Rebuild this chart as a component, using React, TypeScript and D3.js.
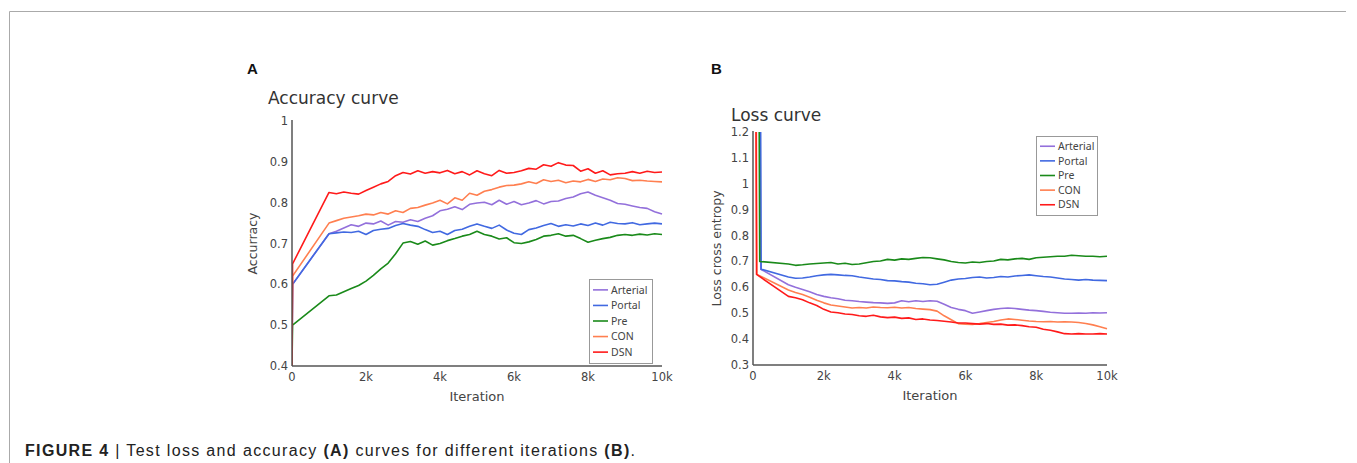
import React from 'react';
import * as d3 from 'd3';

// legend order and colours
const SERIES = ['Arterial', 'Portal', 'Pre', 'CON', 'DSN'];
const COLORS = ['#9370db', '#4169e1', '#1a8a1a', '#ff7f50', '#ff1a1a'];

// shared iteration grid (after the first 1k)
const ITERS = [
  1000, 1200, 1400, 1600, 1800, 2000, 2200, 2400, 2600, 2800,
  3000, 3200, 3400, 3600, 3800, 4000, 4200, 4400, 4600, 4800,
  5000, 5200, 5400, 5600, 5800, 6000, 6200, 6400, 6600, 6800,
  7000, 7200, 7400, 7600, 7800, 8000, 8200, 8400, 8600, 8800,
  9000, 9200, 9400, 9600, 9800, 10000,
];

// ---- accuracy (panel A)
const accHead = [
  [[0, 0.4], [15, 0.6]],
  [[0, 0.4], [15, 0.6]],
  [[0, 0.4], [15, 0.5]],
  [[0, 0.4], [15, 0.62]],
  [[0, 0.4], [15, 0.65]],
];
const accArterial = [
  0.724, 0.73, 0.738, 0.746, 0.742, 0.75, 0.748, 0.755, 0.745, 0.754,
  0.752, 0.758, 0.754, 0.762, 0.768, 0.78, 0.784, 0.79, 0.783, 0.796,
  0.799, 0.801, 0.795, 0.806, 0.796, 0.803, 0.795, 0.799, 0.805, 0.797,
  0.803, 0.804, 0.81, 0.814, 0.822, 0.826, 0.818, 0.812, 0.806, 0.798,
  0.796, 0.792, 0.788, 0.786, 0.778, 0.772,
];
const accPortal = [
  0.724, 0.726, 0.728, 0.727, 0.73, 0.722, 0.732, 0.735, 0.737, 0.744,
  0.749, 0.745, 0.742, 0.734, 0.727, 0.73, 0.722, 0.732, 0.735, 0.742,
  0.748, 0.742, 0.737, 0.745, 0.733, 0.725, 0.722, 0.734, 0.738, 0.744,
  0.749, 0.742, 0.746, 0.743, 0.748, 0.744, 0.75, 0.745, 0.752, 0.749,
  0.748, 0.751, 0.746, 0.748, 0.75, 0.748,
];
const accPre = [
  0.572, 0.574, 0.582, 0.59, 0.597, 0.608, 0.622, 0.638, 0.652, 0.675,
  0.701, 0.705, 0.698, 0.706, 0.696, 0.7, 0.707, 0.712, 0.718, 0.722,
  0.73, 0.722, 0.718, 0.711, 0.714, 0.702, 0.7, 0.704, 0.71, 0.718,
  0.72, 0.724, 0.718, 0.72, 0.712, 0.703, 0.708, 0.712, 0.715, 0.72,
  0.722, 0.72, 0.723, 0.721, 0.724, 0.722,
];
const accCon = [
  0.75, 0.756, 0.762, 0.765, 0.768, 0.772, 0.77, 0.776, 0.772, 0.78,
  0.776, 0.786, 0.788, 0.794, 0.799, 0.806, 0.797, 0.812, 0.806, 0.823,
  0.818, 0.828, 0.832, 0.838, 0.842, 0.843, 0.846, 0.851, 0.847, 0.856,
  0.852, 0.855, 0.849, 0.853, 0.851, 0.857, 0.852, 0.858, 0.856, 0.861,
  0.859, 0.854, 0.855, 0.853, 0.852, 0.851,
];
const accDsn = [
  0.825, 0.822, 0.826, 0.823, 0.821, 0.83, 0.838, 0.846, 0.852, 0.866,
  0.874, 0.87, 0.878, 0.872, 0.876, 0.873, 0.879, 0.871, 0.876, 0.868,
  0.878, 0.871, 0.866, 0.879, 0.872, 0.874, 0.878, 0.884, 0.882, 0.893,
  0.889, 0.898, 0.892, 0.891, 0.877, 0.883, 0.872, 0.878, 0.868, 0.871,
  0.872, 0.876, 0.872, 0.877, 0.874, 0.875,
];
const accValues = [accArterial, accPortal, accPre, accCon, accDsn];

// ---- loss (panel B)
const lossHead = [
  [[200, 1.4], [220, 0.67]],
  [[210, 1.4], [230, 0.67]],
  [[170, 1.4], [190, 0.7]],
  [[90, 1.4], [110, 0.65]],
  [[80, 1.4], [100, 0.65]],
];
const lossArterial = [
  0.61, 0.6, 0.592, 0.583, 0.572, 0.565, 0.56, 0.556, 0.55, 0.548,
  0.545, 0.543, 0.541, 0.54, 0.538, 0.54, 0.548, 0.544, 0.548, 0.545,
  0.548, 0.546, 0.535, 0.522, 0.515, 0.51, 0.5, 0.505, 0.51, 0.515,
  0.518, 0.52, 0.518, 0.515, 0.512, 0.51, 0.507, 0.504, 0.502, 0.5,
  0.5, 0.501, 0.5, 0.502, 0.501, 0.502,
];
const lossPortal = [
  0.64, 0.635, 0.636, 0.64, 0.645, 0.648, 0.65, 0.648, 0.646, 0.645,
  0.64, 0.636, 0.632, 0.63, 0.626, 0.625, 0.622, 0.62, 0.616, 0.614,
  0.61, 0.612, 0.62, 0.628, 0.632, 0.634, 0.638, 0.64, 0.636, 0.638,
  0.642, 0.64, 0.644, 0.646, 0.648, 0.645, 0.642, 0.64, 0.636, 0.632,
  0.63, 0.628, 0.63, 0.628, 0.627, 0.626,
];
const lossPre = [
  0.69, 0.685, 0.687, 0.69, 0.692, 0.694, 0.696, 0.69, 0.693, 0.688,
  0.69, 0.695, 0.7, 0.702, 0.708, 0.705, 0.71, 0.708, 0.712, 0.715,
  0.714, 0.71, 0.706, 0.7, 0.696, 0.694, 0.698, 0.696, 0.7, 0.702,
  0.708, 0.706, 0.71, 0.712, 0.708, 0.714, 0.716, 0.718, 0.72, 0.72,
  0.724, 0.722, 0.72, 0.72, 0.718, 0.72,
];
const lossCon = [
  0.59, 0.58, 0.572, 0.562, 0.55, 0.54, 0.532, 0.528, 0.524, 0.52,
  0.522, 0.52, 0.524, 0.522, 0.521, 0.523, 0.52, 0.522, 0.518, 0.516,
  0.514, 0.508, 0.49, 0.475, 0.46, 0.458, 0.457, 0.46, 0.464, 0.468,
  0.474, 0.478, 0.476, 0.473, 0.47, 0.468, 0.467, 0.468, 0.466, 0.467,
  0.466, 0.464, 0.46, 0.455, 0.448, 0.44,
];
const lossDsn = [
  0.565, 0.56, 0.552, 0.54, 0.53, 0.515, 0.505, 0.502, 0.497, 0.495,
  0.49, 0.488, 0.492, 0.486, 0.483, 0.485, 0.48, 0.482, 0.476, 0.478,
  0.474, 0.472, 0.469, 0.466, 0.462, 0.462, 0.46, 0.458, 0.46, 0.457,
  0.458, 0.454, 0.455, 0.452, 0.448, 0.446, 0.438, 0.434, 0.428, 0.421,
  0.42, 0.421, 0.42, 0.42, 0.421, 0.42,
];
const lossValues = [lossArterial, lossPortal, lossPre, lossCon, lossDsn];

const X_TICKS = [0, 2000, 4000, 6000, 8000, 10000];
const X_TICK_LABELS = ['0', '2k', '4k', '6k', '8k', '10k'];
const ACC_TICKS = [0.4, 0.5, 0.6, 0.7, 0.8, 0.9, 1];
const LOSS_TICKS = [0.3, 0.4, 0.5, 0.6, 0.7, 0.8, 0.9, 1, 1.1, 1.2];

const AXIS_FONT = 'DejaVu Sans, Verdana, sans-serif';
const TEXT_COLOR = '#444';

type Panel = {
  id: string;
  letter: string;
  letterX: number;
  title: string;
  titleX: number;
  titleY: number;
  x0: number; x1: number; y0: number; y1: number;
  domain: [number, number];
  yTicks: number[];
  yLabel: string;
  yLabelX: number;
  heads: number[][][];
  values: number[][];
  legend: { x: number; y: number; w: number; h: number };
};

const panels: Panel[] = [
  {
    id: 'acc', letter: 'A', letterX: 247,
    title: 'Accuracy curve', titleX: 268, titleY: 104,
    x0: 292, x1: 662, y0: 366, y1: 121,
    domain: [0.4, 1], yTicks: ACC_TICKS,
    yLabel: 'Accurracy', yLabelX: 257,
    heads: accHead, values: accValues,
    legend: { x: 589, y: 279, w: 63, h: 84 },
  },
  {
    id: 'loss', letter: 'B', letterX: 711,
    title: 'Loss curve', titleX: 731, titleY: 121,
    x0: 753, x1: 1107, y0: 365, y1: 132,
    domain: [0.3, 1.2], yTicks: LOSS_TICKS,
    yLabel: 'Loss cross entropy', yLabelX: 721,
    heads: lossHead, values: lossValues,
    legend: { x: 1036, y: 136, w: 61, h: 79 },
  },
];

const PanelChart = ({ p }: { p: Panel }) => {
  const x = d3.scaleLinear().domain([0, 10000]).range([p.x0, p.x1]);
  const y = d3.scaleLinear().domain(p.domain).range([p.y0, p.y1]);
  const line = d3.line<number[]>().x(d => x(d[0])).y(d => y(d[1]));
  const rowH = p.legend.h / 5.4;

  return (
    <g>
      <text x={p.letterX} y={74} fontFamily="Liberation Sans, Arial, sans-serif"
        fontWeight="bold" fontSize={15} fill="#111">{p.letter}</text>
      <text x={p.titleX} y={p.titleY} fontFamily={AXIS_FONT} fontSize={17} fill="#333">{p.title}</text>

      <clipPath id={`clip-${p.id}`}>
        <rect x={p.x0} y={p.y1} width={p.x1 - p.x0 + 2} height={p.y0 - p.y1} />
      </clipPath>
      <g clipPath={`url(#clip-${p.id})`}>
        {p.values.map((vals, i) => {
          const pts = [...p.heads[i], ...ITERS.map((it, j) => [it, vals[j]])];
          return (
            <path key={SERIES[i]} d={line(pts) || ''} fill="none"
              stroke={COLORS[i]} strokeWidth={1.6} strokeLinejoin="round" />
          );
        })}
      </g>

      {/* axes */}
      <line x1={p.x0} x2={p.x0} y1={p.y1 - 1} y2={p.y0} stroke="#555" strokeWidth={1.5} />
      <line x1={p.x0} x2={p.x1} y1={p.y0} y2={p.y0} stroke="#555" strokeWidth={1.5} />

      {p.yTicks.map(t => (
        <text key={t} x={p.x0 - 4} y={y(t)} dy="0.35em" textAnchor="end"
          fontFamily={AXIS_FONT} fontSize={11.5} fill={TEXT_COLOR}>{String(t)}</text>
      ))}
      {X_TICKS.map((t, i) => (
        <text key={t} x={x(t)} y={p.y0 + 15} textAnchor="middle"
          fontFamily={AXIS_FONT} fontSize={11.5} fill={TEXT_COLOR}>{X_TICK_LABELS[i]}</text>
      ))}
      <text x={(p.x0 + p.x1) / 2} y={p.y0 + 35} textAnchor="middle"
        fontFamily={AXIS_FONT} fontSize={13} fill={TEXT_COLOR}>Iteration</text>
      <text transform={`translate(${p.yLabelX},${(p.y0 + p.y1) / 2}) rotate(-90)`} textAnchor="middle"
        fontFamily={AXIS_FONT} fontSize={12.5} fill={TEXT_COLOR}>{p.yLabel}</text>

      {/* legend */}
      <rect x={p.legend.x + 0.5} y={p.legend.y + 0.5} width={p.legend.w} height={p.legend.h}
        fill="#fff" stroke="#999" strokeWidth={1} />
      {SERIES.map((s, i) => {
        const ly = p.legend.y + rowH * (i + 0.7);
        return (
          <g key={s}>
            <line x1={p.legend.x + 4} x2={p.legend.x + 19} y1={ly} y2={ly}
              stroke={COLORS[i]} strokeWidth={1.6} />
            <text x={p.legend.x + 22} y={ly} dy="0.35em" fontFamily="Noto Sans, Segoe UI, sans-serif"
              fontSize={10.5} fill={TEXT_COLOR}>{s}</text>
          </g>
        );
      })}
    </g>
  );
};

export default function App() {
  return (
    <div style={{ position: 'absolute', left: 0, top: 0 }}>
      <svg width={1357} height={463} style={{ display: 'block', background: '#fff' }}>
        <line x1={9.5} x2={1346} y1={11.5} y2={11.5} stroke="#aaa" strokeWidth={1} />
        <line x1={9.5} x2={9.5} y1={11.5} y2={463} stroke="#aaa" strokeWidth={1} />
        {panels.map(p => <PanelChart key={p.id} p={p} />)}
        <text x={25} y={456} fontFamily="Liberation Sans, Arial, sans-serif"
          fontSize={16} fill="#222" textLength={610} lengthAdjust="spacing">
          <tspan fontWeight="bold">FIGURE 4</tspan>
          <tspan> | Test loss and accuracy </tspan>
          <tspan fontWeight="bold">(A)</tspan>
          <tspan> curves for different iterations </tspan>
          <tspan fontWeight="bold">(B)</tspan>
          <tspan>.</tspan>
        </text>
      </svg>
    </div>
  );
}
